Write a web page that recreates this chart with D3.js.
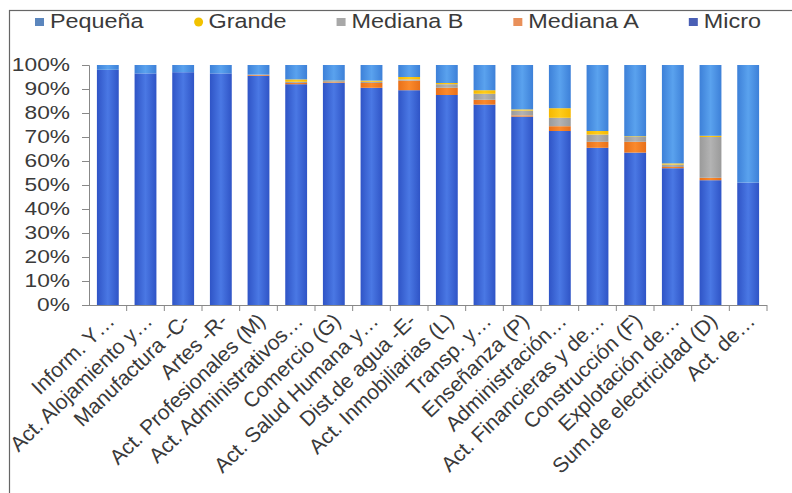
<!DOCTYPE html>
<html>
<head>
<meta charset="utf-8">
<script src="https://cdn.jsdelivr.net/npm/d3@7"></script>
<style>
  body { margin: 0; background: #fff; }
  svg text { font-family: "Liberation Sans", Arial, sans-serif; fill: #3a3a3a; }
</style>
</head>
<body>
<svg id="chart" width="792" height="493"></svg>
<script>
// ─── Data (share of firms by size, per sector) ─────────────
const categories = [
  "Inform. Y…", "Act. Alojamiento y…", "Manufactura -C-", "Artes -R-",
  "Act. Profesionales (M)", "Act. Administrativos…", "Comercio (G)",
  "Act. Salud Humana y…", "Dist.de agua -E-", "Act. Inmobiliarias (L)",
  "Transp. y…", "Enseñanza (P)", "Administración…", "Act. Financieras y de…",
  "Construcción (F)", "Explotación de…", "Sum.de electricidad (D)", "Act. de…"
];
const micro    = [98, 96.5, 97, 96.5, 95.5, 92, 92.5, 90.5, 89.5, 87.5, 83.5, 78.5, 72.5, 65.5, 63.5, 57, 52, 51];
const medianaA = [0, 0, 0, 0, 0.3, 0.5, 0.3, 2, 4, 3, 2, 0.5, 2, 2.5, 4.5, 0.5, 1, 0];
const medianaB = [0, 0, 0, 0, 0.2, 0.5, 0.5, 0.5, 0.5, 1.5, 2.5, 2, 3.5, 3, 2, 1, 17, 0];
const grande   = [0, 0, 0, 0, 0, 1, 0.2, 0.5, 1, 0.5, 1.5, 0.5, 4, 1.5, 0.3, 0.5, 0.5, 0];
const pequena  = [2, 3.5, 3, 3.5, 4, 6, 6.5, 6.5, 5, 7.5, 10.5, 18.5, 18, 27.5, 29.7, 41, 29.5, 49];

const stackKeys   = ["Micro", "Mediana A", "Mediana B", "Grande", "Pequeña"];
const legendOrder = ["Pequeña", "Grande", "Mediana B", "Mediana A", "Micro"];
const yTicks = [0, 10, 20, 30, 40, 50, 60, 70, 80, 90, 100];

const colors = {
  "Micro":     ["#2f54c6", "#4a78e4"],
  "Mediana A": ["#e8701a", "#fb8a2c"],
  "Mediana B": ["#9a9a9a", "#b3b3b3"],
  "Grande":    ["#f5b800", "#ffcc1a"],
  "Pequeña":   ["#3d80d8", "#5aa2ee"]
};
const legendColors = {
  "Pequeña": "#5b86bd", "Grande": "#f2c200", "Mediana B": "#a8a8a8",
  "Mediana A": "#e9905a", "Micro": "#4a5fb5"
};

// table for d3.stack
const table = categories.map((c, i) => ({
  cat: c,
  "Micro": micro[i], "Mediana A": medianaA[i], "Mediana B": medianaB[i],
  "Grande": grande[i], "Pequeña": pequena[i]
}));

// ─── Setup ──────────────────────────────────────
const svg = d3.select('#chart');
const plot = { left: 89, right: 767, top: 65, bottom: 305 };

const x = d3.scaleBand()
  .domain(categories)
  .range([plot.left, plot.right])
  .paddingInner(0.42)
  .paddingOuter(0.21);

const y = d3.scaleLinear().domain([0, 100]).range([plot.bottom, plot.top]);

// outer frame
svg.append('rect')
  .attr('x', 9.5).attr('y', 10.5)
  .attr('width', 800).attr('height', 500)
  .attr('fill', 'none').attr('stroke', '#666').attr('stroke-width', 1.2);

// gradients
const defs = svg.append('defs');
stackKeys.forEach((k, i) => {
  const g = defs.append('linearGradient')
    .attr('id', 'grad' + i).attr('x1', 0).attr('x2', 1).attr('y1', 0).attr('y2', 0);
  g.append('stop').attr('offset', '0%').attr('stop-color', colors[k][0]);
  g.append('stop').attr('offset', '50%').attr('stop-color', colors[k][1]);
  g.append('stop').attr('offset', '100%').attr('stop-color', colors[k][0]);
});

// ─── Bars ───────────────────────────────────────
const stacked = d3.stack().keys(stackKeys)(table);

svg.append('g').selectAll('g')
  .data(stacked)
  .join('g')
    .attr('fill', (d, i) => `url(#grad${i})`)
  .selectAll('rect')
  .data(d => d)
  .join('rect')
    .attr('x', d => x(d.data.cat))
    .attr('y', d => y(d[1]))
    .attr('width', x.bandwidth())
    .attr('height', d => Math.max(0, y(d[0]) - y(d[1])));

// ─── Y axis ─────────────────────────────────────
const yAxis = svg.append('g')
  .attr('transform', `translate(${plot.left},0)`)
  .call(d3.axisLeft(y).tickValues(yTicks).tickSize(7).tickFormat(d => d + '%'));
yAxis.select('.domain').attr('stroke', '#888');
yAxis.selectAll('.tick line').attr('stroke', '#888');
yAxis.selectAll('.tick text')
  .attr('x', 0)
  .attr('transform', 'translate(-19,0) scale(1.3,1)')
  .attr('font-size', 17.5)
  .attr('fill', '#3a3a3a');

// ─── X axis ─────────────────────────────────────
const gap = (x.step() - x.bandwidth()) / 2;
const xAxis = svg.append('g');
xAxis.append('line')
  .attr('x1', plot.left).attr('x2', plot.right)
  .attr('y1', plot.bottom + 0.5).attr('y2', plot.bottom + 0.5)
  .attr('stroke', '#888');
xAxis.selectAll('.xtick')
  .data(categories)
  .join('line')
    .attr('class', 'xtick')
    .attr('x1', d => x(d) + x.bandwidth() + gap)
    .attr('x2', d => x(d) + x.bandwidth() + gap)
    .attr('y1', plot.bottom).attr('y2', plot.bottom + 6)
    .attr('stroke', '#888');

xAxis.selectAll('.xlab')
  .data(categories)
  .join('text')
    .attr('class', 'xlab')
    .attr('transform', d => `translate(${x(d) + x.bandwidth() / 2 + 3},${plot.bottom + 12}) rotate(-44)`)
    .attr('text-anchor', 'end')
    .attr('dy', '0.35em')
    .attr('font-size', 21)
    .text(d => d);

// ─── Legend ─────────────────────────────────────
const legend = svg.append('g');
let lx = 35;
legendOrder.forEach(name => {
  if (name === 'Grande') {
    legend.append('circle')
      .attr('cx', lx + 5).attr('cy', 22).attr('r', 4.5)
      .attr('fill', legendColors[name]);
  } else {
    legend.append('rect')
      .attr('x', lx).attr('y', 18).attr('width', 9).attr('height', 8)
      .attr('fill', legendColors[name]);
  }
  const t = legend.append('text')
    .attr('x', 0).attr('y', 0)
    .attr('font-size', 19.5)
    .attr('transform', `translate(${lx + 15},28) scale(1.2,1)`)
    .text(name);
  const w = t.node().getComputedTextLength() * 1.2;
  lx += 15 + w + 50;
});
</script>
</body>
</html>
